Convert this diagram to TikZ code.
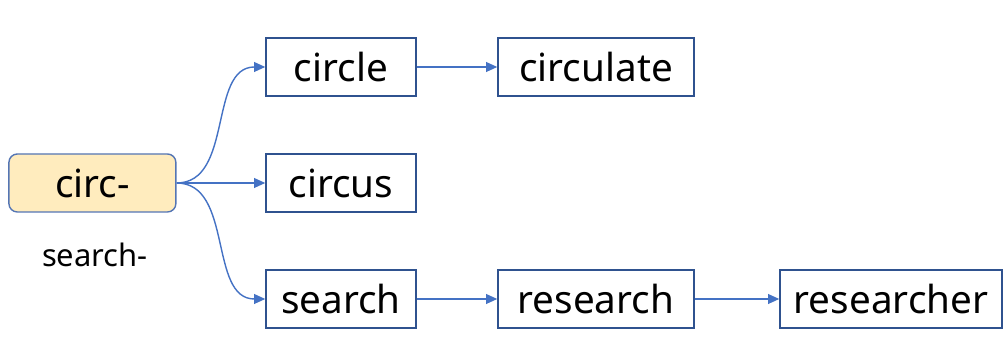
\documentclass[tikz,border=0pt]{standalone}
\usepackage{fontspec}
\setmainfont{Noto Sans}
\usetikzlibrary{arrows.meta,positioning}
\definecolor{boxblue}{RGB}{47,82,143}
\definecolor{linkblue}{RGB}{68,114,196}
\definecolor{rootfill}{RGB}{255,236,190}
\definecolor{rootedge}{RGB}{84,117,180}

\begin{document}
\begin{tikzpicture}[
    word/.style={rectangle, draw=boxblue, line width=1pt, fill=white, minimum height=1.45cm, text centered, inner sep=0pt, font=\fontsize{27.5}{32}\selectfont},
    link/.style={draw=linkblue, line width=1pt, -{Triangle[length=8pt,width=7pt]}}]

\useasboundingbox (0,0) rectangle (25.1,9.075);

\node[word, fill=rootfill, draw=rootedge, rounded corners=6pt, minimum width=4.175cm] (root) at (2.31,4.5) {circ-};
\node[font=\fontsize{22}{26}\selectfont] (alt) at (2.375,2.7) {search-};

\node[word, minimum width=3.75cm] (circle) at (8.525,7.4) {circle};
\node[word, minimum width=3.75cm] (circus) at (8.525,4.5) {circus};
\node[word, minimum width=3.75cm] (search) at (8.525,1.6) {search};

\node[word, minimum width=4.9cm] (circulate) at (14.9,7.4) {circulate};
\node[word, minimum width=4.9cm] (research) at (14.9,1.6) {research};
\node[word, minimum width=5.55cm] (researcher) at (22.275,1.6) {researcher};

\draw[link] (root.east) to[out=0, in=180] (circle.west);
\draw[link] (root.east) -- (circus.west);
\draw[link] (root.east) to[out=0, in=180] (search.west);
\draw[link] (circle) -- (circulate);
\draw[link] (search) -- (research);
\draw[link] (research) -- (researcher);

\end{tikzpicture}
\end{document}
